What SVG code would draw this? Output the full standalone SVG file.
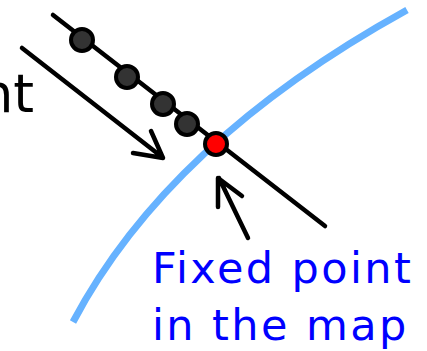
<svg xmlns="http://www.w3.org/2000/svg" width="427" height="351" viewBox="0 0 427 351">
<style>
.ln{stroke:#000;stroke-width:4.5;fill:none;stroke-linecap:round;stroke-linejoin:round}
.dot{fill:#333;stroke:#000;stroke-width:4}
.blue{font-family:"DejaVu Sans",Verdana,sans-serif;font-size:43px;fill:#0000ff;letter-spacing:2.4px}
</style>
<rect width="427" height="351" fill="#fff"/>
<g id="curve">
<path d="M73,322 Q168,142 407,10" fill="none" stroke="#66b2ff" stroke-width="7"/>
</g>
<g id="connectors">
<line class="ln" x1="53" y1="15" x2="325" y2="226"/>
<path class="ln" d="M22,48 L162,157 M133,153 L163,158 L151,131"/>
<path class="ln" d="M248,238 L219,178 M218,207 L218,178 L242,196"/>
</g>
<g id="dots">
<circle class="dot" cx="82" cy="40" r="11"/>
<circle class="dot" cx="127" cy="77" r="11"/>
<circle class="dot" cx="163" cy="104" r="11"/>
<circle class="dot" cx="187" cy="124" r="11"/>
<circle cx="216" cy="144" r="11" fill="#ff0000" stroke="#000" stroke-width="4"/>
</g>
<g id="label-left">
<text x="34" y="112" text-anchor="end" font-family="DejaVu Sans,Verdana,sans-serif" font-size="53" fill="#000">nt</text>
</g>
<g id="label-fixed">
<text class="blue" x="152" y="283">Fixed point</text>
<text class="blue" x="152" y="340">in the map</text>
</g>
</svg>
